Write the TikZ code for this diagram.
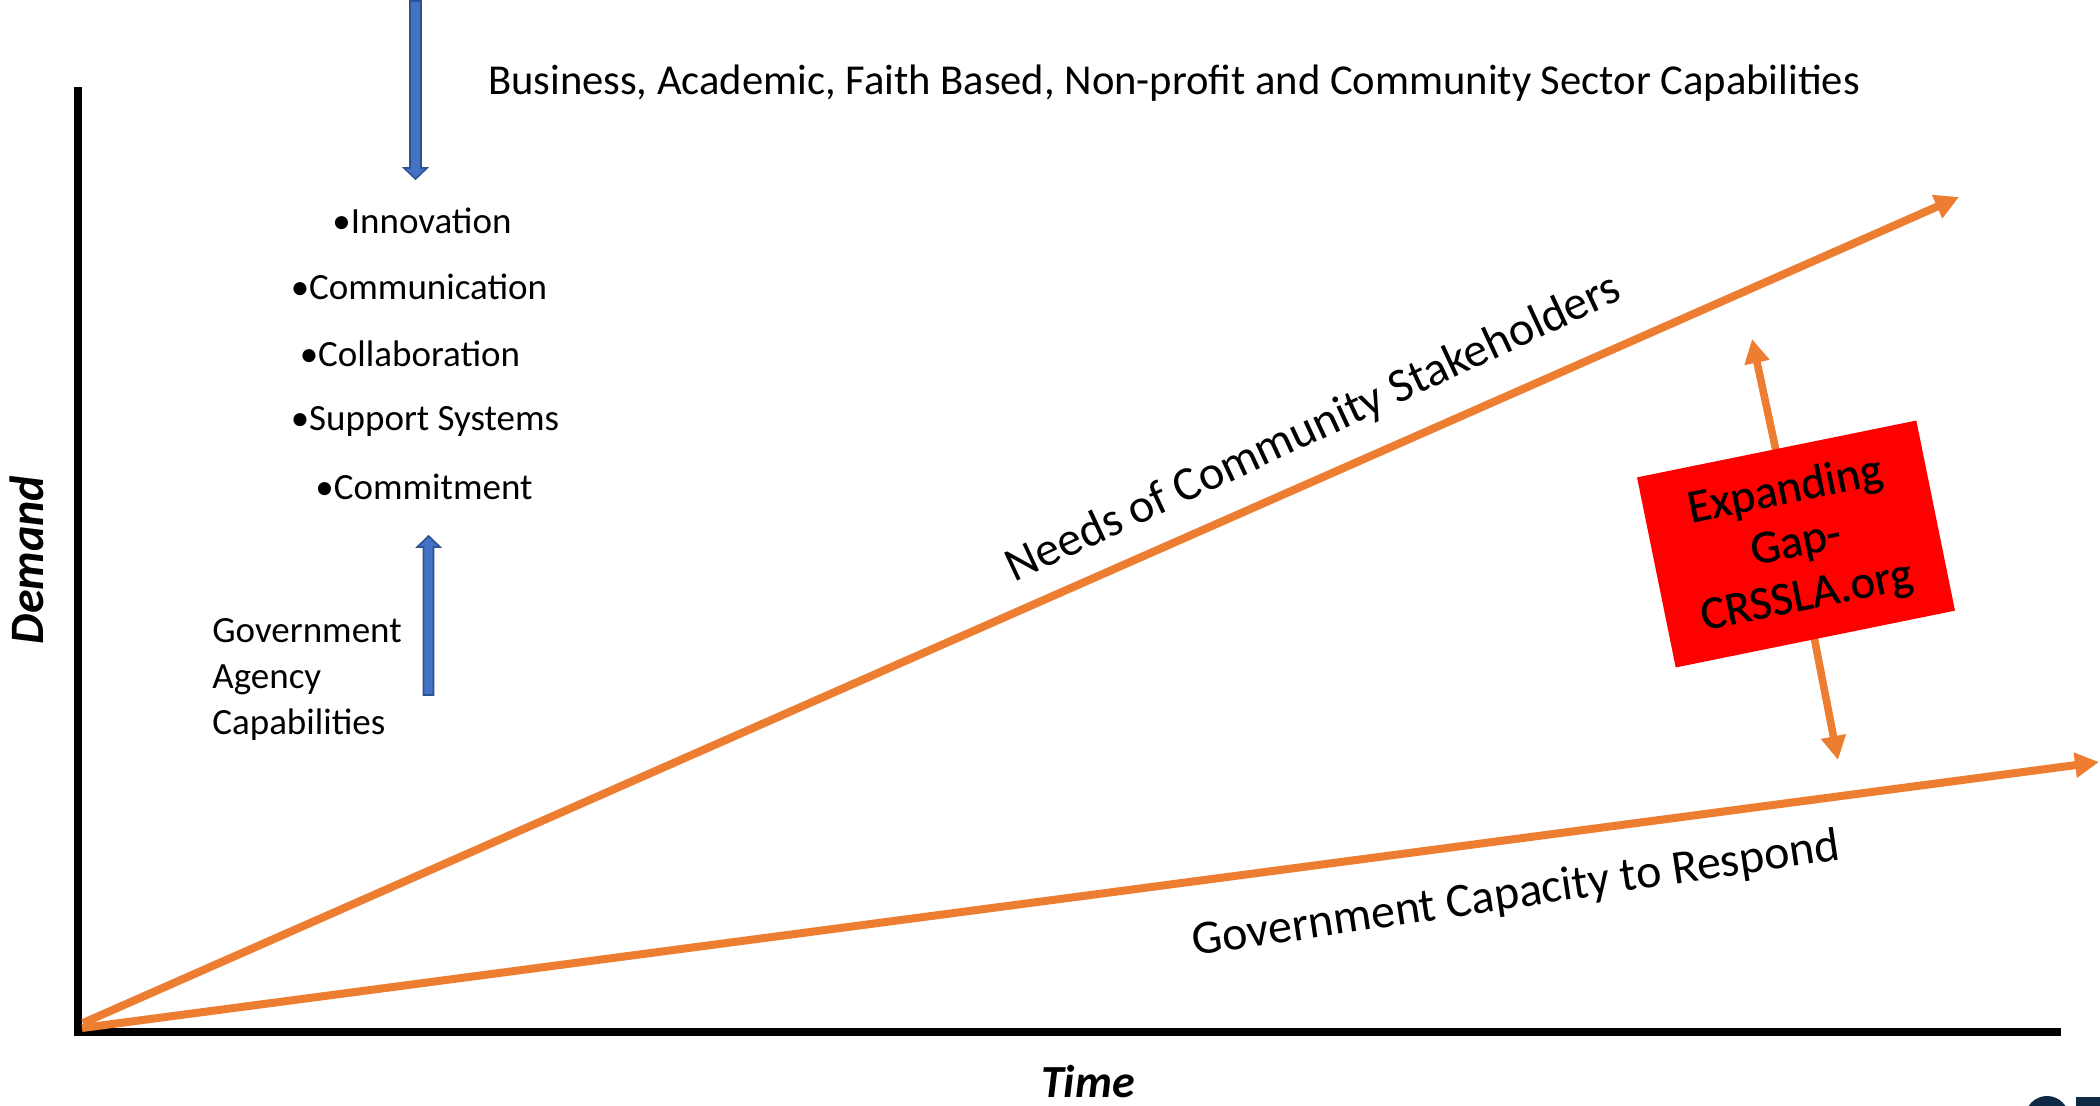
\documentclass[tikz,border=0pt]{standalone}
\usepackage{fontspec}
\setmainfont{Carlito}
\newfontfamily\boxfont[FakeBold=0.5]{Carlito}
\usetikzlibrary{arrows.meta}
\definecolor{org}{HTML}{ED7D31}
\definecolor{bluefill}{HTML}{4472C4}
\definecolor{blueline}{HTML}{2F528F}
\definecolor{navy}{HTML}{0F2A45}
\definecolor{gapred}{HTML}{FF0000}
\pgfdeclarelayer{bg}
\pgfsetlayers{bg,main}
\begin{document}
\begin{tikzpicture}[x=0.5pt,y=-0.5pt,
  axisline/.style={draw=black,line width=4pt},
  growth/.style={draw=org,line width=4pt,-{Triangle[length=12pt,width=12pt]}},
  gaparrow/.style={draw=org,line width=3.8pt,-{Triangle[length=12pt,width=12pt]}},
  blockarrow/.style={fill=bluefill,draw=blueline,line width=0.8pt},
  label/.style={inner sep=0pt,text=black},
  bullettext/.style={label,font=\fontsize{18.5}{22}\selectfont},
  bigtext/.style={label,font=\fontsize{24}{28}\selectfont},
  axislabel/.style={label,font=\fontsize{23}{27}\selectfont\bfseries\itshape},
  gapbox/.style={fill=gapred,draw=none,text=black,minimum width=142.5pt,minimum height=97pt,
    rotate=11.5,align=center,inner sep=0pt,font=\boxfont\fontsize{23.5}{27}\selectfont}
]
\useasboundingbox (0,0) rectangle (2100,1105);
\begin{pgfonlayer}{bg}
\fill[white] (0,0) rectangle (2100,1105);
\end{pgfonlayer}

% axes
\coordinate (ytop) at (78,91);
\coordinate (xend) at (2057,1032);
\draw[axisline,line cap=rect] (ytop) -- (78,1032) -- (xend);

% growth lines
\coordinate (o1) at (83,1023);
\coordinate (o2) at (82,1028);
\coordinate (needtip) at (1959,197);
\coordinate (govtip) at (2099,762);
\draw[growth] (o1) -- (needtip);
\draw[growth] (o2) -- (govtip);

% labels along lines
\node[bigtext,rotate=25] (needs) at (1314,429) {Needs of Community Stakeholders};
\node[bigtext,rotate=8.5] (govcap) at (1516,895) {Government Capacity to Respond};

% expanding gap box with double arrow
\node[gapbox] (gap) at (1796,544) {Expanding\\Gap-\\CRSSLA.org};
\coordinate (gtop) at (1752,339);
\coordinate (gbot) at (1838,760);
\begin{pgfonlayer}{bg}
\draw[gaparrow] (gap.center) -- (gtop);
\draw[gaparrow] (gap.center) -- (gbot);
\end{pgfonlayer}

% top text
\node[label,font=\fontsize{21.3}{25}\selectfont] (sectors) at (1174,83)
  {Business, Academic, Faith Based, Non-profit and Community Sector Capabilities};

% blue block arrows
\draw[blockarrow] (410,1) -- (421,1) -- (421,168) -- (427,168) -- (415.5,179)
  -- (404,168) -- (410,168) -- cycle;
\draw[blockarrow] (423.5,695) -- (433.5,695) -- (433.5,547) -- (440,547)
  -- (428.6,536) -- (417.2,547) -- (423.5,547) -- cycle;

% bullet list
\node[bullettext] (b1) at (422,221) {•Innovation};
\node[bullettext] (b2) at (419,287) {•Communication};
\node[bullettext] (b3) at (410,354) {•Collaboration};
\node[bullettext] (b4) at (425,421) {•Support Systems};
\node[bullettext] (b5) at (424,487) {•Commitment};

\node[bullettext,anchor=west,align=left,font=\fontsize{18.5}{23}\selectfont]
  (gov) at (212,679) {Government\\Agency\\Capabilities};

% axis labels
\node[axislabel,rotate=90,font=\fontsize{24}{28}\selectfont\bfseries\itshape] (demand) at (27,560) {Demand};
\node[axislabel] (time) at (1088,1082) {Time};

% partial logo at the corner
\begin{scope}
  \clip (0,0) rectangle (2100,1105);
  \fill[navy] (2047,1118) circle[radius=22];
  \fill[white] (2047,1120) circle[radius=9];
  \fill[navy] (2076,1097) rectangle (2110,1115);
\end{scope}
\end{tikzpicture}
\end{document}
